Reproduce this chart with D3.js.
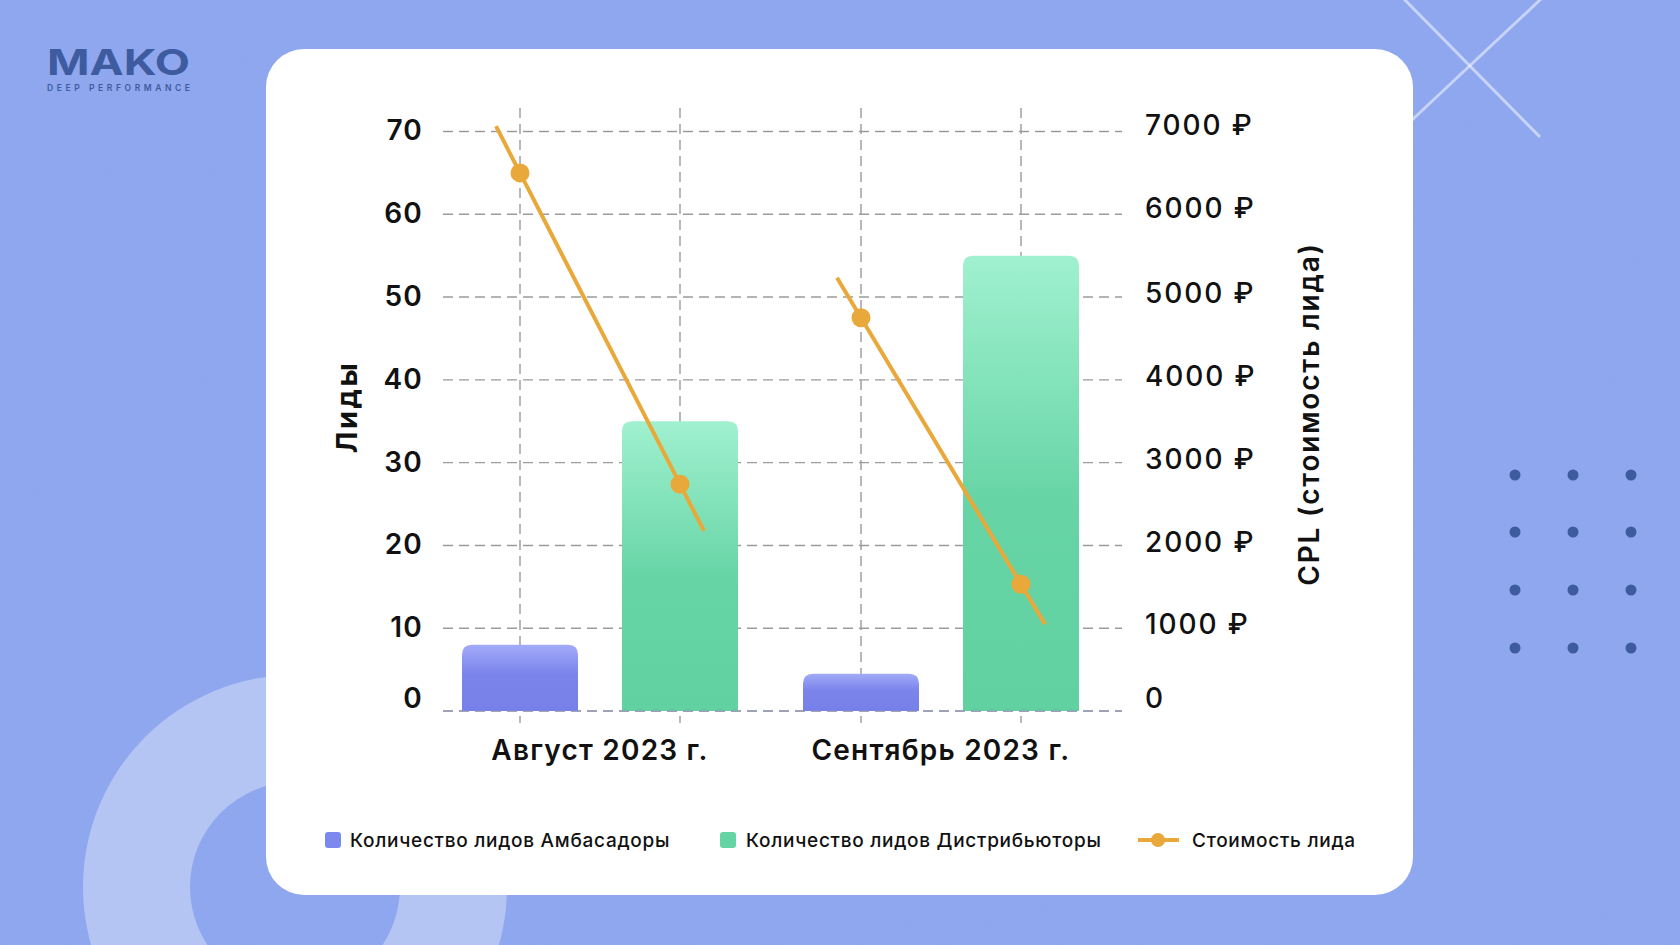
<!DOCTYPE html>
<html><head><meta charset="utf-8">
<script src="https://cdn.jsdelivr.net/npm/d3@7"></script>
<style>
html,body{margin:0;padding:0;background:#8ea7ef;}
svg{display:block;}
</style></head>
<body>
<svg id="chart" width="1680" height="945"></svg>
<script>
// ---------- DATA ----------
const categories = ["Август 2023 г.", "Сентябрь 2023 г."];
const seriesNames = ["Количество лидов Амбасадоры", "Количество лидов Дистрибьюторы"];
const leadsAmbassadors = [8, 4.5];
const leadsDistributors = [35, 55];
const cplAmbassadors = [6500, 4750];
const cplDistributors = [2740, 1530];
const lineName = "Стоимость лида";
const leftTicks = [0, 10, 20, 30, 40, 50, 60, 70];
const rightTicks = [0, 1000, 2000, 3000, 4000, 5000, 6000, 7000];
const leftTitle = "Лиды";
const rightTitle = "CPL (стоимость лида)";

// ---------- SETUP ----------
const svg = d3.select("#chart");
const W = 1680, H = 945;
const FONT = "Inter, 'Noto Sans', sans-serif";
const colBlue = "#7d88ee", colGreen = "#64d4a4", colOrange = "#e9a83a";

const defs = svg.append("defs");
const gB = defs.append("linearGradient").attr("id","gBlue").attr("x1",0).attr("y1",0).attr("x2",0).attr("y2",1);
gB.append("stop").attr("offset","0%").attr("stop-color","#a2aaf8");
gB.append("stop").attr("offset","45%").attr("stop-color","#7a84eb");
gB.append("stop").attr("offset","100%").attr("stop-color","#7780e8");
const gG = defs.append("linearGradient").attr("id","gGreen").attr("x1",0).attr("y1",0).attr("x2",0).attr("y2",1);
gG.append("stop").attr("offset","0%").attr("stop-color","#a0f1cf");
gG.append("stop").attr("offset","55%").attr("stop-color","#66d4a5");
gG.append("stop").attr("offset","100%").attr("stop-color","#62d1a1");
const noise = defs.append("filter").attr("id","noise").attr("x",0).attr("y",0).attr("width","100%").attr("height","100%");
noise.append("feTurbulence").attr("type","fractalNoise").attr("baseFrequency",0.85).attr("numOctaves",2).attr("stitchTiles","stitch");
noise.append("feColorMatrix").attr("type","matrix").attr("values","0 0 0 0 0.3  0 0 0 0 0.4  0 0 0 0 0.8  0 0 0 0.18 0");

// ---------- BACKGROUND ----------
svg.append("rect").attr("width",W).attr("height",H).attr("fill","#8ea7ef");
svg.append("rect").attr("width",W).attr("height",H).attr("filter","url(#noise)").attr("opacity",0.6);
// ring
svg.append("path")
  .attr("d", d3.arc()({innerRadius:105, outerRadius:212, startAngle:0, endAngle:2*Math.PI}))
  .attr("transform","translate(295,887)")
  .attr("fill","#ffffff").attr("opacity",0.34);
// cross
const cross = svg.append("g").attr("stroke","#ffffff").attr("stroke-opacity",0.5).attr("stroke-width",3);
cross.append("line").attr("x1",1403).attr("y1",-2).attr("x2",1540).attr("y2",137);
cross.append("line").attr("x1",1541).attr("y1",-1).attr("x2",1380).attr("y2",150);
// dots grid
const dotX = [1515, 1573, 1631], dotY = [475, 532, 590, 648];
const dg = svg.append("g").attr("fill","#3f5b9f");
dotY.forEach(y => dotX.forEach(x => dg.append("circle").attr("cx",x).attr("cy",y).attr("r",5.5)));
// logo
svg.append("text").attr("x",47).attr("y",75).attr("font-family",FONT).attr("font-weight",700)
  .attr("font-size",36).attr("fill","#3f5b9f").attr("textLength",143).attr("lengthAdjust","spacingAndGlyphs").text("MAKO");
svg.append("text").attr("x",47).attr("y",91).attr("font-family",FONT).attr("font-weight",600)
  .attr("font-size",8.5).attr("fill","#3f5b9f").attr("textLength",143).attr("lengthAdjust","spacing").text("DEEP PERFORMANCE");

// card
svg.append("rect").attr("x",266).attr("y",49).attr("width",1147).attr("height",846).attr("rx",38).attr("fill","#ffffff");

// ---------- SCALES ----------
const plotLeft = 443, plotRight = 1122, yBase = 711, yTop = 131.5;
const yL = d3.scaleLinear().domain([0,70]).range([yBase, yTop]);
const yR = d3.scaleLinear().domain([0,7000]).range([yBase, yTop]);
const x0 = d3.scaleBand().domain(categories).range([440,1101]).paddingInner(0.0616).paddingOuter(0);
const keys = ["amb","dist"];
const x1 = d3.scaleBand().domain(keys).range([0, x0.bandwidth()]).paddingInner(0.275).paddingOuter(0.1375);

const rows = categories.map((c,i) => ({
  cat: c,
  amb: leadsAmbassadors[i], dist: leadsDistributors[i],
  cplAmb: cplAmbassadors[i], cplDist: cplDistributors[i]
}));

const gridStyle = sel => sel.attr("stroke","#9b9b9b").attr("stroke-width",1.4).attr("stroke-dasharray","10,6");

// horizontal grid
svg.append("g").selectAll("line").data(leftTicks).join("line")
  .attr("x1",plotLeft).attr("x2",plotRight).attr("y1",d=>yL(d)).attr("y2",d=>yL(d)).call(gridStyle);
// vertical grid at bar centers
const centers = [];
rows.forEach(r => keys.forEach(k => centers.push(x0(r.cat) + x1(k) + x1.bandwidth()/2)));
svg.append("g").selectAll("line").data(centers).join("line")
  .attr("x1",d=>d).attr("x2",d=>d).attr("y1",108).attr("y2",723).call(gridStyle);

// ---------- BARS ----------
function topRounded(x, y, w, h, r){
  r = Math.min(r, h, w/2);
  return `M${x},${y+h}V${y+r}Q${x},${y} ${x+r},${y}H${x+w-r}Q${x+w},${y} ${x+w},${y+r}V${y+h}Z`;
}
const bars = svg.append("g");
rows.forEach(r => {
  keys.forEach(k => {
    const x = x0(r.cat) + x1(k), w = x1.bandwidth();
    const y = yL(r[k]), h = yBase - y;
    bars.append("path").attr("d", topRounded(x, y, w, h, 10))
      .attr("fill", k==="amb" ? "url(#gBlue)" : "url(#gGreen)");
  });
});
// baseline dashes over bars
svg.append("line").attr("x1",plotLeft).attr("x2",plotRight).attr("y1",yBase).attr("y2",yBase)
  .call(gridStyle).attr("stroke","#8a8fc0").attr("stroke-opacity",0.6);

// ---------- LINE (CPL) ----------
const ext = 0.15;
const lineGen = d3.line().x(d=>d[0]).y(d=>d[1]);
const lg = svg.append("g");
rows.forEach(r => {
  const p1 = [x0(r.cat) + x1("amb") + x1.bandwidth()/2, yR(r.cplAmb)];
  const p2 = [x0(r.cat) + x1("dist") + x1.bandwidth()/2, yR(r.cplDist)];
  const dx = p2[0]-p1[0], dy = p2[1]-p1[1];
  const pts = [[p1[0]-dx*ext, p1[1]-dy*ext], p1, p2, [p2[0]+dx*ext, p2[1]+dy*ext]];
  lg.append("path").attr("d", lineGen(pts)).attr("fill","none").attr("stroke",colOrange).attr("stroke-width",4);
  [p1,p2].forEach(p => lg.append("circle").attr("cx",p[0]).attr("cy",p[1]).attr("r",9.5).attr("fill",colOrange));
});

// ---------- AXES ----------
const axL = svg.append("g").attr("transform",`translate(${plotLeft},0)`)
  .call(d3.axisLeft(yL).tickValues(leftTicks).tickSize(0).tickPadding(20).tickFormat(d3.format("d")));
axL.select(".domain").remove();
axL.selectAll("text").attr("font-family",FONT).attr("font-weight",600).attr("font-size",28).attr("fill","#111")
  .attr("letter-spacing",1.2).attr("dy", d => d===0 ? "-0.12em" : "0.3em");

const axR = svg.append("g").attr("transform",`translate(${plotRight},0)`)
  .call(d3.axisRight(yR).tickValues(rightTicks).tickSize(0).tickPadding(23).tickFormat(d => d===0 ? "0" : d + " ₽"));
axR.select(".domain").remove();
axR.selectAll("text").attr("font-family",FONT).attr("font-weight",500).attr("font-size",28).attr("fill","#111")
  .attr("letter-spacing",1.9).attr("dy", d => d===0 ? "-0.12em" : (d>=6000 ? "0.1em" : "0.2em"));

const axB = svg.append("g").attr("transform",`translate(0,${yBase})`)
  .call(d3.axisBottom(x0).tickSize(0).tickPadding(29));
axB.select(".domain").remove();
axB.selectAll("text").attr("font-family",FONT).attr("font-weight",600).attr("font-size",28).attr("fill","#111")
  .attr("letter-spacing",1.2);

// axis titles
svg.append("text").attr("transform","translate(346,407) rotate(-90)").attr("text-anchor","middle")
  .attr("dominant-baseline","central").attr("font-family",FONT).attr("font-weight",700).attr("font-size",29)
  .attr("letter-spacing",2.5).attr("fill","#111").text(leftTitle);
svg.append("text").attr("transform","translate(1309,414) rotate(-90)").attr("text-anchor","middle")
  .attr("dominant-baseline","central").attr("font-family",FONT).attr("font-weight",600).attr("font-size",28)
  .attr("letter-spacing",1.8).attr("fill","#111").text(rightTitle);

// ---------- LEGEND ----------
const legY = 840;
const leg = svg.append("g").attr("font-family",FONT).attr("font-size",19).attr("font-weight",500)
  .attr("letter-spacing",0.72).attr("fill","#111");
leg.append("rect").attr("x",325).attr("y",legY-8).attr("width",16).attr("height",16).attr("rx",3).attr("fill",colBlue);
leg.append("text").attr("x",350).attr("y",legY).attr("dominant-baseline","central").text(seriesNames[0]);
leg.append("rect").attr("x",720).attr("y",legY-8).attr("width",16).attr("height",16).attr("rx",3).attr("fill",colGreen);
leg.append("text").attr("x",746).attr("y",legY).attr("dominant-baseline","central").text(seriesNames[1]);
leg.append("line").attr("x1",1138).attr("x2",1179).attr("y1",legY).attr("y2",legY).attr("stroke",colOrange).attr("stroke-width",4);
leg.append("circle").attr("cx",1158).attr("cy",legY).attr("r",7).attr("fill",colOrange);
leg.append("text").attr("x",1192).attr("y",legY).attr("dominant-baseline","central").text(lineName);
</script>
</body></html>
